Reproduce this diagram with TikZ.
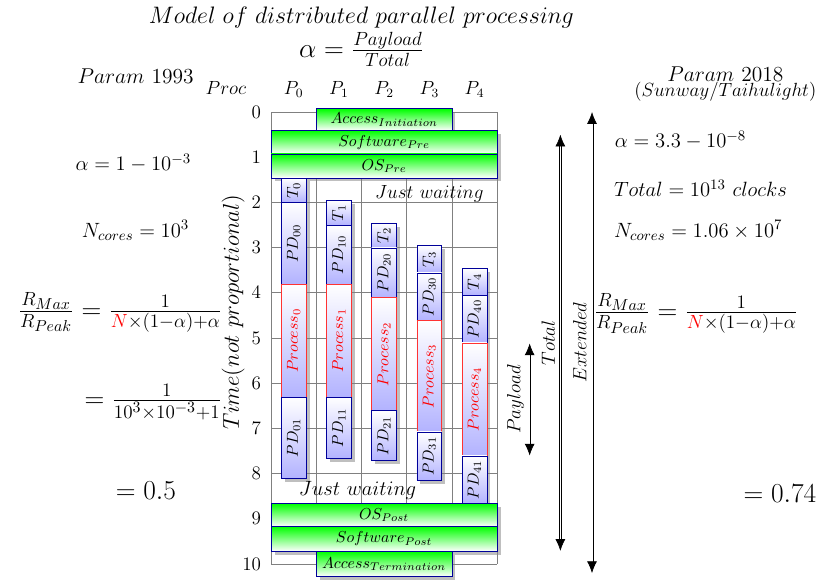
\RequirePackage{fix-cm}
\documentclass[tikz,border=0pt]{standalone}
\usepackage{amsmath}
\usepackage{amssymb}
\usepackage{graphicx}
\usetikzlibrary{shadows, arrows.meta, positioning}

\tikzset{
  stage/.style={draw=blue!60!black, top color=green, bottom color=white, drop shadow, anchor=north, inner sep=0pt},
  task/.style={draw=blue!60!black, top color=white, bottom color=blue!30, drop shadow, anchor=north, minimum width=0.55cm, inner sep=0pt},
  proc/.style={task, draw=red!80, text=red},
  span/.style={double, double distance=1.1pt, {Latex[length=2.6mm, width=2.2mm]}-{Latex[length=2.6mm, width=2.2mm]}},
  lbl/.style={font=\large},
  mid/.style={font=\fontsize{13}{15}\selectfont},
  head/.style={font=\fontsize{13.5}{16}\selectfont},
  big/.style={font=\LARGE},
}

\begin{document}
\begin{tikzpicture}
    \useasboundingbox (-6.0,2.48) rectangle (12.3,-10.48);

    \draw[gray, line width=0.5pt] (0,-10) grid (5,0);

    \node[font=\fontsize{15}{18}\selectfont] (title) at (2.0,2.1) {$Model\ of\ distributed\ parallel\ processing$};
    \node[big] (alpha) at (2.0,1.39) {$\alpha = \frac{Payload}{Total}$};

    \node[lbl, anchor=base] (proclbl) at (-1.0,0.38) {$Proc$};
    \foreach \i in {0,...,4}
        \node[lbl, anchor=base] (P\i) at (\i+0.5,0.38) {$P_{\i}$};
    \foreach \y in {0,...,10}
        \node[lbl, left] (t\y) at (-0.1,-\y) {$\y$};
    \node[font=\Large, rotate=90] (timelbl) at (-0.84,-4.43) {$Time(not\ proportional)$};

    \node[stage, minimum width=3cm, minimum height=0.48cm] (accinit) at (2.5,0.08) {$Access_{Initiation}$};
    \node[stage, minimum width=5cm, minimum height=0.52cm] (swpre) at (2.5,-0.4) {$Software_{Pre}$};
    \node[stage, minimum width=5cm, minimum height=0.53cm] (ospre) at (2.5,-0.92) {$OS_{Pre}$};

    \foreach \i/\ta/\tb/\pa/\pb/\pc in {0/-1.45/-2.0/-3.8/-6.3/-8.1, 1/-1.95/-2.5/-3.8/-6.3/-7.65,
        2/-2.45/-3.0/-4.1/-6.6/-7.7, 3/-2.95/-3.55/-4.6/-7.07/-8.15, 4/-3.45/-4.05/-5.1/-7.6/-8.65}
    {
        \pgfmathsetmacro{\hT}{\ta-\tb}
        \pgfmathsetmacro{\hA}{\tb-\pa}
        \pgfmathsetmacro{\hP}{\pa-\pb}
        \pgfmathsetmacro{\hB}{\pb-\pc}
        \node[task, minimum height=\hT cm] (T\i) at (\i+0.5,\ta) {\rotatebox{90}{$T_{\i}$}};
        \node[task, minimum height=\hA cm] (PD\i0) at (\i+0.5,\tb) {\rotatebox{90}{$PD_{\i0}$}};
        \node[proc, minimum height=\hP cm] (Proc\i) at (\i+0.5,\pa) {\rotatebox{90}{$Process_{\i}$}};
        \node[task, minimum height=\hB cm] (PD\i1) at (\i+0.5,\pb) {\rotatebox{90}{$PD_{\i1}$}};
    }

    \node[stage, minimum width=5cm, minimum height=0.51cm] (ospost) at (2.5,-8.65) {$OS_{Post}$};
    \node[stage, minimum width=5cm, minimum height=0.55cm] (swpost) at (2.5,-9.16) {$Software_{Post}$};
    \node[stage, minimum width=3cm, minimum height=0.56cm] (accterm) at (2.5,-9.71) {$Access_{Termination}$};

    \node[lbl] (wait1) at (3.5,-1.82) {$Just\ waiting$};
    \node[mid] (wait2) at (1.91,-8.38) {$Just\ waiting$};

    \coordinate (payA) at (5.72,-5.12);
    \coordinate (payB) at (5.72,-7.6);
    \coordinate (totA) at (6.4,-0.5);
    \coordinate (totB) at (6.4,-9.71);
    \coordinate (extA) at (7.1,0.0);
    \coordinate (extB) at (7.1,-10.2);
    \draw[span, double distance=0.6pt] (payB) -- (payA) node[lbl, midway, above, sloped] (paylbl) {$Payload$};
    \draw[span] (totB) -- (totA) node[lbl, midway, above, sloped] (totlbl) {$Total$};
    \draw[span] (extB) -- (extA) node[lbl, midway, above, sloped] (extlbl) {$Extended$};

    \node[head] (param1) at (-3.0,0.8) {$Param$ 1993};
    \node[mid] (alpha1) at (-3.05,-1.13) {$\alpha = 1-10^{-3}$};
    \node[mid] (ncores1) at (-3.0,-2.62) {$N_{cores} = 10^3$};
    \node[big, anchor=east] (ratio1) at (-0.97,-4.43) {$\frac{R_{Max}}{R_{Peak}} = \frac{1}{\textcolor{red}{N}\times(1-\alpha)+\alpha}$};
    \node[big, anchor=east] (ratio1b) at (-0.97,-6.42) {$= \frac{1}{10^3\times10^{-3}+1}$};
    \node[big] (res1) at (-2.77,-8.38) {$= 0.5$};

    \node[lbl, align=center] (param2) at (10.05,0.62) {{\fontsize{13.5}{15}\selectfont $Param$ 2018}\\[-5pt]$(Sunway/Taihulight)$};
    \node[mid] (alpha2) at (9.06,-0.62) {$\alpha = 3.3-10^{-8}$};
    \node[mid] (total2) at (9.5,-1.69) {$Total = 10^{13}\ clocks$};
    \node[mid] (ncores2) at (9.45,-2.62) {$N_{cores} = 1.06\times10^7$};
    \node[big] (ratio2) at (9.4,-4.46) {$\frac{R_{Max}}{R_{Peak}} = \frac{1}{\textcolor{red}{N}\times(1-\alpha)+\alpha}$};
    \node[big] (res2) at (11.26,-8.45) {$= 0.74$};
\end{tikzpicture}
\end{document}
